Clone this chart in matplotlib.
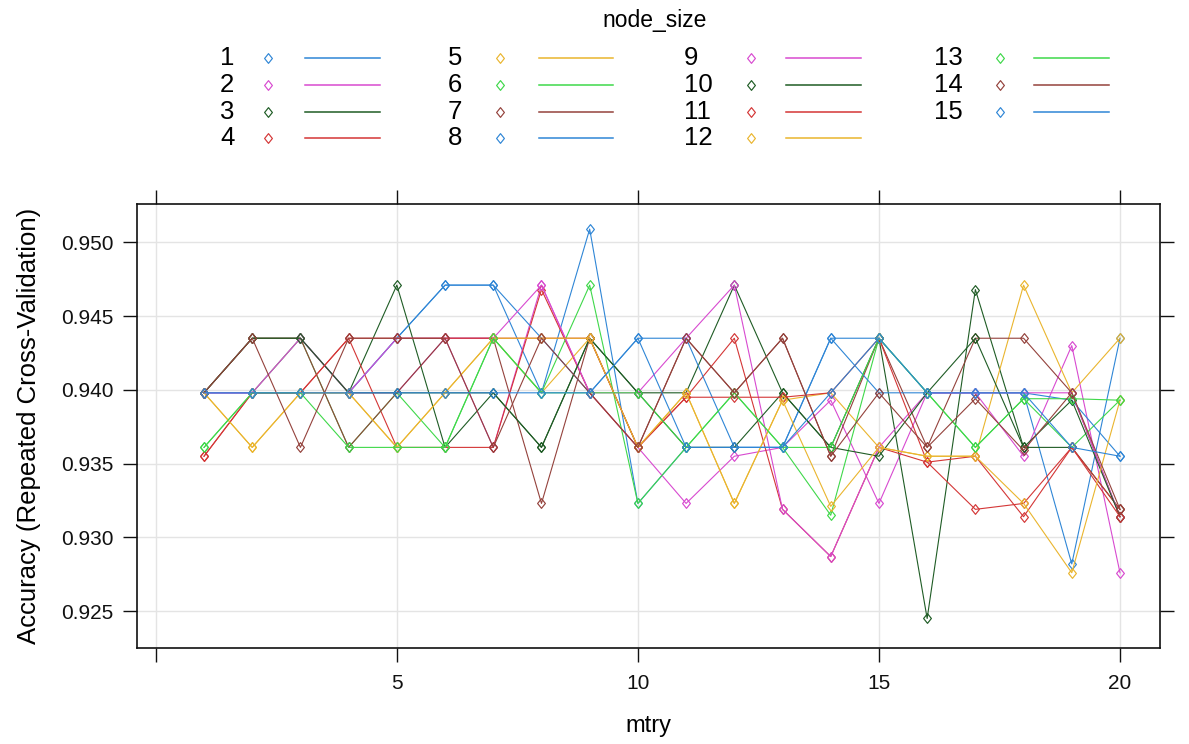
import matplotlib
matplotlib.use("Agg")
import matplotlib.pyplot as plt
from matplotlib import font_manager
from matplotlib.lines import Line2D
from matplotlib.path import Path

# Narrow sans face when present, regular otherwise
_names = {f.name for f in font_manager.fontManager.ttflist}
FACE = "Liberation Sans Narrow" if "Liberation Sans Narrow" in _names else "Liberation Sans"
plt.rcParams["font.family"] = [FACE, "DejaVu Sans"]

# ---- tuning grid ----
mtry = list(range(1, 21))
node_size = list(range(1, 16))

acc_1 = [0.9398, 0.9398, 0.9398, 0.9398, 0.9435, 0.9471, 0.9471, 0.9398, 0.9509, 0.9323,
         0.9361, 0.9361, 0.9361, 0.9435, 0.9435, 0.9398, 0.9398, 0.9398, 0.9282, 0.9435]
acc_2 = [0.9398, 0.9398, 0.9435, 0.9398, 0.9398, 0.9435, 0.9361, 0.9471, 0.9398, 0.9361,
         0.9323, 0.9355, 0.9361, 0.9393, 0.9323, 0.9398, 0.9398, 0.9355, 0.9430, 0.9276]
acc_3 = [0.9398, 0.9435, 0.9435, 0.9398, 0.9471, 0.9361, 0.9398, 0.9361, 0.9435, 0.9398,
         0.9398, 0.9471, 0.9398, 0.9361, 0.9435, 0.9245, 0.9468, 0.9361, 0.9361, 0.9319]
acc_4 = [0.9355, 0.9398, 0.9398, 0.9435, 0.9361, 0.9361, 0.9361, 0.9468, 0.9398, 0.9361,
         0.9395, 0.9435, 0.9319, 0.9287, 0.9361, 0.9351, 0.9319, 0.9323, 0.9361, 0.9319]
acc_5 = [0.9398, 0.9361, 0.9398, 0.9398, 0.9361, 0.9398, 0.9435, 0.9398, 0.9435, 0.9361,
         0.9398, 0.9323, 0.9393, 0.9398, 0.9361, 0.9355, 0.9355, 0.9471, 0.9398, 0.9435]
acc_6 = [0.9361, 0.9398, 0.9435, 0.9361, 0.9398, 0.9361, 0.9435, 0.9398, 0.9471, 0.9323,
         0.9361, 0.9398, 0.9361, 0.9315, 0.9435, 0.9398, 0.9361, 0.9394, 0.9361, 0.9393]
acc_7 = [0.9398, 0.9435, 0.9435, 0.9361, 0.9398, 0.9435, 0.9435, 0.9323, 0.9435, 0.9361,
         0.9435, 0.9398, 0.9435, 0.9355, 0.9435, 0.9361, 0.9435, 0.9435, 0.9398, 0.9314]
acc_8 = [0.9398, 0.9398, 0.9398, 0.9398, 0.9435, 0.9471, 0.9471, 0.9435, 0.9398, 0.9435,
         0.9435, 0.9361, 0.9361, 0.9435, 0.9398, 0.9398, 0.9398, 0.9398, 0.9393, 0.9355]
acc_9 = [0.9398, 0.9398, 0.9435, 0.9398, 0.9435, 0.9435, 0.9435, 0.9471, 0.9398, 0.9398,
         0.9435, 0.9471, 0.9319, 0.9287, 0.9361, 0.9398, 0.9398, 0.9398, 0.9398, 0.9314]
acc_10 = [0.9398, 0.9435, 0.9435, 0.9398, 0.9398, 0.9398, 0.9398, 0.9361, 0.9435, 0.9398,
          0.9361, 0.9361, 0.9398, 0.9361, 0.9355, 0.9398, 0.9435, 0.9361, 0.9393, 0.9314]
acc_11 = [0.9355, 0.9398, 0.9398, 0.9435, 0.9435, 0.9435, 0.9435, 0.9435, 0.9435, 0.9361,
          0.9395, 0.9395, 0.9395, 0.9398, 0.9435, 0.9351, 0.9355, 0.9314, 0.9361, 0.9314]
acc_12 = [0.9398, 0.9361, 0.9398, 0.9398, 0.9361, 0.9398, 0.9435, 0.9435, 0.9435, 0.9361,
          0.9398, 0.9323, 0.9393, 0.9321, 0.9361, 0.9355, 0.9355, 0.9323, 0.9276, 0.9393]
acc_13 = [0.9361, 0.9398, 0.9398, 0.9361, 0.9361, 0.9361, 0.9435, 0.9398, 0.9398, 0.9398,
          0.9361, 0.9398, 0.9361, 0.9361, 0.9435, 0.9398, 0.9361, 0.9394, 0.9394, 0.9393]
acc_14 = [0.9398, 0.9435, 0.9361, 0.9435, 0.9435, 0.9435, 0.9361, 0.9435, 0.9398, 0.9361,
          0.9435, 0.9398, 0.9435, 0.9355, 0.9398, 0.9361, 0.9394, 0.9359, 0.9398, 0.9319]
acc_15 = [0.9398, 0.9398, 0.9398, 0.9398, 0.9398, 0.9398, 0.9398, 0.9398, 0.9398, 0.9435,
          0.9361, 0.9361, 0.9361, 0.9398, 0.9435, 0.9398, 0.9398, 0.9398, 0.9361, 0.9355]

accuracy = [acc_1, acc_2, acc_3, acc_4, acc_5, acc_6, acc_7, acc_8,
            acc_9, acc_10, acc_11, acc_12, acc_13, acc_14, acc_15]

# superpose palette (blue, magenta, dark green, red, orange, green, brown), recycled
palette = ["#2f86d6", "#d84ad0", "#1f5c25", "#d43636", "#eab52e", "#3fd84a", "#94423c"]
colors = [palette[i % len(palette)] for i in range(len(node_size))]

x_ticks = [0, 5, 10, 15, 20]
x_ticklabels = ["", "5", "10", "15", "20"]
y_ticks = [0.925, 0.930, 0.935, 0.940, 0.945, 0.950]
y_ticklabels = ["0.925", "0.930", "0.935", "0.940", "0.945", "0.950"]

# open diamond, a little taller than wide
diamond = Path([(0, 1), (0.8, 0), (0, -1), (-0.8, 0), (0, 1)],
               [Path.MOVETO, Path.LINETO, Path.LINETO, Path.LINETO, Path.CLOSEPOLY])

W, H = 1189, 744
fig = plt.figure(figsize=(W / 100, H / 100), dpi=100)
ax = fig.add_axes([137 / W, 1 - 648 / H, (1160 - 137) / W, (648 - 204) / H])

ax.grid(True, color="#e4e4e4", linewidth=1.0)
ax.set_axisbelow(True)

for vals, col in zip(accuracy, colors):
    ax.plot(mtry, vals, color=col, linewidth=0.8, marker=diamond, markersize=7,
            markerfacecolor="none", markeredgecolor=col, markeredgewidth=0.85)

ax.set_xlim(-0.39, 20.83)
ax.set_ylim(0.9225, 0.9526)
ax.set_xticks(x_ticks)
ax.set_xticklabels(x_ticklabels)
ax.set_yticks(y_ticks)
ax.set_yticklabels(y_ticklabels)
ax.tick_params(direction="out", length=10, width=1.0, labelsize=15, colors="#111111",
               top=True, right=True, labeltop=False, labelright=False)
ax.tick_params(axis="y", pad=7)
ax.tick_params(axis="x", pad=9)
for sp in ax.spines.values():
    sp.set_linewidth(1.2)
    sp.set_color("#111111")

ax.set_xlabel("mtry", fontsize=17)
ax.set_ylabel("Accuracy (Repeated Cross-Validation)", fontsize=18.5)
ax.xaxis.set_label_coords(0.5, -0.150)
ax.yaxis.set_label_coords(-0.094, 0.5)

# key above the panel: label, point symbol, line segment
fig.text(655 / W, 1 - 20 / H, "node_size", fontsize=16.5, ha="center", va="center")
col_text_x = [220, 448, 684, 934]
col_pt_x = [268, 500, 751, 1000]
col_line_x = [(305, 380), (539, 613), (786, 861), (1034, 1109)]
row_y = [58, 85, 112, 138]
n_rows = 4
for i, (ns, col) in enumerate(zip(node_size, colors)):
    c, r = divmod(i, n_rows)
    yy = 1 - row_y[r] / H
    fig.text(col_text_x[c] / W, yy, str(ns), fontsize=18.5, ha="left", va="center")
    fig.add_artist(Line2D([col_pt_x[c] / W], [yy], marker=diamond, markersize=7,
                          markerfacecolor="none", markeredgecolor=col,
                          markeredgewidth=0.85, linestyle="none"))
    x0, x1 = col_line_x[c]
    fig.add_artist(Line2D([x0 / W, x1 / W], [yy, yy], color=col, linewidth=1.1))

fig.savefig("out.png", dpi=100)
